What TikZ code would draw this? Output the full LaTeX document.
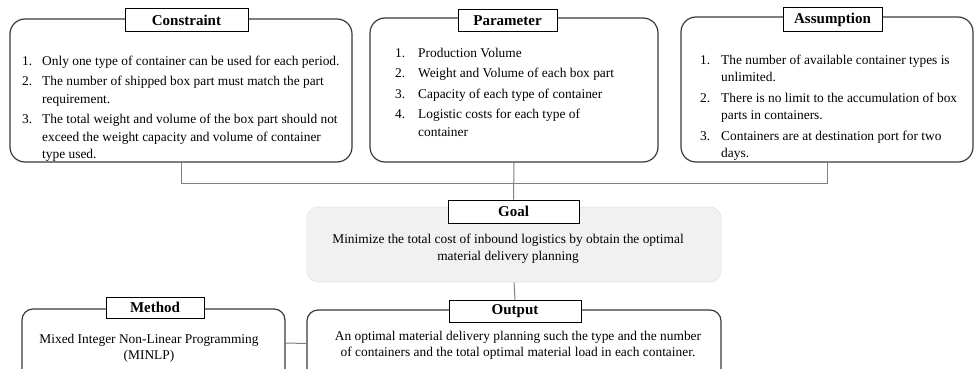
\documentclass[tikz,border=0pt]{standalone}
\usepackage{fontspec}
\setmainfont{Liberation Serif}
\usepackage{array}
\definecolor{edge}{HTML}{3A3A3A}
\definecolor{wire}{HTML}{808080}
\definecolor{goalfill}{HTML}{F1F1F1}
\begin{document}
\begin{tikzpicture}[x=1pt,y=-1pt,
  panel/.style={draw=edge,line width=1.2pt,rounded corners=15pt,inner sep=0pt},
  lowpanel/.style={draw=edge,line width=1.2pt,rounded corners=11pt,inner sep=0pt},
  goalpanel/.style={draw=gray!20,fill=goalfill,line width=0.6pt,rounded corners=11pt,inner sep=0pt},
  tag/.style={draw=black,fill=white,line width=1pt,inner sep=0pt,
    font=\fontsize{15}{17}\selectfont\bfseries},
  listtext/.style={inner sep=0pt,anchor=north west,
    font=\fontsize{13.4}{17.5}\selectfont},
  plain/.style={inner sep=0pt,align=center},
  link/.style={draw=wire,line width=1pt}]
\clip (0,0) rectangle (974,369);
\fill[white] (0,0) rectangle (974,369);

% upper row of panels
\node[panel,minimum width=342pt,minimum height=143pt] (cons) at (181,90.5) {};
\node[panel,minimum width=288pt,minimum height=144pt] (param) at (514,90) {};
\node[panel,minimum width=292pt,minimum height=145pt] (asum) at (827,89.5) {};

% joining lines between the upper row and the goal
\draw[link] (cons.south) -- ++(0,21) -| (asum.south);

% goal panel
\node[goalpanel,minimum width=414pt,minimum height=75pt] (goal) at (514,244.5) {};

% lower row of panels (they run past the lower edge)
\node[lowpanel,minimum width=263pt,minimum height=80pt] (method) at (153.5,349) {};
\node[lowpanel,minimum width=414pt,minimum height=79pt] (output) at (514,349.5) {};

% title tags
\node[tag,minimum width=123pt,minimum height=23pt] (constag) at (186.5,20.5) {Constraint};
\node[tag,minimum width=99pt,minimum height=22pt] (paramtag) at (507.5,21) {Parameter};
\node[tag,minimum width=99pt,minimum height=24pt] (asumtag) at (832.5,20) {Assumption};
\node[tag,minimum width=131pt,minimum height=23pt] (goaltag) at (513.5,211.5) {Goal};
\node[tag,minimum width=98pt,minimum height=21pt] (methodtag) at (155,307.5) {Method};
\node[tag,minimum width=132pt,minimum height=22pt] (outputtag) at (515,311) {Output};

% connectors
\draw[link] (param.south) -- (goaltag.north);
\draw[link] (goal.south) -- (outputtag.north);
\draw[link] ([yshift=6pt]method.east) -- ([yshift=6pt]output.west);

% list texts
\node[listtext] (constxt) at (22,53) {\begin{tabular}{@{}p{20pt}@{}l@{}}
1. & Only one type of container can be used for each period.\\[3pt]
2. & The number of shipped box part must match the part\\
   & requirement.\\[3pt]
3. & The total weight and volume of the box part should not\\
   & exceed the weight capacity and volume of container\\
   & type used.
\end{tabular}};

\node[listtext] (paramtxt) at (395,45) {\begin{tabular}{@{}p{23pt}@{}l@{}}
1. & Production Volume\\[3pt]
2. & Weight and Volume of each box part\\[3pt]
3. & Capacity of each type of container\\[3pt]
4. & Logistic costs for each type of\\
   & container
\end{tabular}};

\node[listtext] (asumtxt) at (700,52) {\begin{tabular}{@{}p{21pt}@{}l@{}}
1. & The number of available container types is\\
   & unlimited.\\[3pt]
2. & There is no limit to the accumulation of box\\
   & parts in containers.\\[3pt]
3. & Containers are at destination port for two\\
   & days.
\end{tabular}};

% centred texts
\node[plain,font=\fontsize{13.4}{17}\selectfont] (goaltxt) at (508,248.5)
  {Minimize the total cost of inbound logistics by obtain the optimal\\material delivery planning};
\node[plain,font=\fontsize{13.4}{16.5}\selectfont] (methodtxt) at (149,348.5)
  {Mixed Integer Non-Linear Programming\\(MINLP)};
\node[plain,font=\fontsize{13.4}{15.5}\selectfont] (outputtxt) at (518,345.5)
  {An optimal material delivery planning such the type and the number\\of containers and the total optimal material load in each container.};
\end{tikzpicture}
\end{document}
